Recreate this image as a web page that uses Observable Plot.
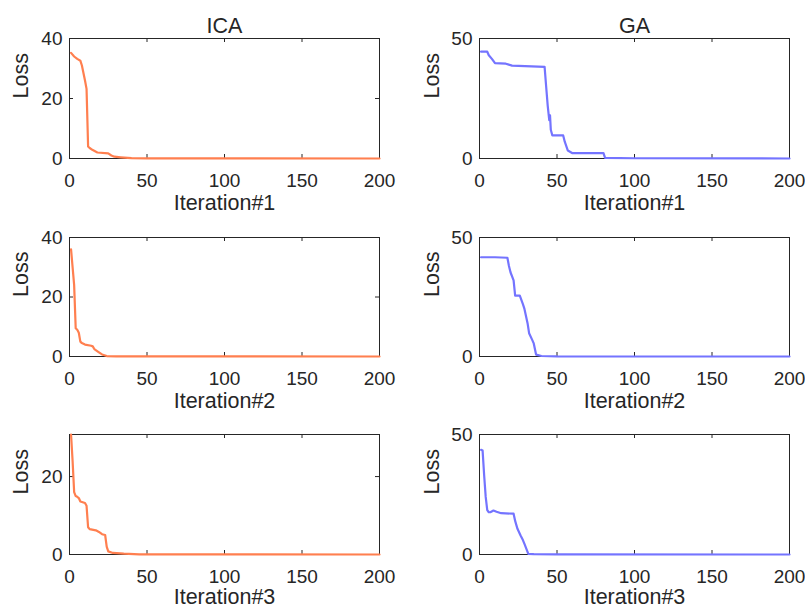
<!DOCTYPE html>
<html>
<head>
<meta charset="utf-8">
<script src="https://cdn.jsdelivr.net/npm/d3@7"></script>
<script src="https://cdn.jsdelivr.net/npm/@observablehq/plot@0.6"></script>
<style>
  html, body { margin: 0; padding: 0; background: #fff; }
  #wrap { position: relative; width: 805px; height: 609px; overflow: hidden; }
  svg { overflow: visible; }
</style>
</head>
<body>
<div id="wrap"></div>
<script>
// ---- data ----
const columnTitles = ["ICA", "GA"];
const xLabels = ["Iteration#1", "Iteration#2", "Iteration#3"];
const yLabel = "Loss";
const xTicks = [0, 50, 100, 150, 200];

const icaTicks = [[0, 20, 40], [0, 20, 40], [0, 20]];
const icaDomains = [[0, 40], [0, 40], [0, 30.8]];
const gaTicks = [[0, 50], [0, 50], [0, 50]];
const gaDomains = [[0, 50], [0, 50], [0, 50]];

const ica1 = [[1,35.2],[3,34],[5,33.2],[7,32.6],[8,31],[10,26],[11,23.2],[12,4],[13,3.5],[15,2.8],[18,2],[25,1.7],[27,1.0],[29,0.6],[33,0.4],[40,0.1],[50,0.02],[200,0]];
const ica2 = [[1,36],[2,30],[3,24],[4,9.5],[5,9],[6,8],[7,5],[8,4.5],[10,4],[14,3.6],[15,3.4],[16,2.5],[19,1.4],[21,0.7],[24,0.15],[30,0.05],[200,0]];
const ica3 = [[1,30.8],[2,24],[3,16],[4,15],[5,14.8],[6,14.5],[7,13.6],[10,13.2],[11,12.5],[12,7],[13,6.5],[17,6.2],[19,5.8],[21,5.2],[23,5],[24,2],[25,0.8],[28,0.4],[35,0.2],[45,0.05],[200,0]];
const ga1 = [[1,44.5],[5,44.5],[6,43],[8,41.5],[10,39.7],[17,39.5],[21,38.7],[42,38.2],[43,30],[44,22],[45,16],[45.5,18],[46,12],[47,9.6],[54,9.6],[55,7],[57,3.3],[60,2.2],[80,2.2],[81,0.3],[100,0.1],[200,0]];
const ga2 = [[1,41.7],[10,41.7],[18,41.5],[19,38],[20,35.4],[22,32],[23,25.6],[26,25.6],[28,22],[29,20],[31,14],[32,9.8],[34,7],[35,5.5],[36.5,0.8],[40,0.2],[50,0.05],[200,0]];
const ga3 = [[1,43.6],[2,43.3],[3,33],[4,24],[5,18.5],[6,17.6],[7,17.6],[9,18.3],[11,17.8],[14,17.2],[22,17],[23,14],[24.5,10.7],[26.5,7.9],[28,6],[29,4.4],[31.5,0.3],[35,0.15],[50,0.05],[200,0]];

const icaSeries = [ica1, ica2, ica3];
const gaSeries = [ga1, ga2, ga3];

// ---- layout ----
const colors = ["#ff7f4f", "#7474ff"];
const axisColor = "#262626";
const cols = [
  {left: 0, width: 400, ml: 69, mr: 21},
  {left: 400, width: 405, ml: 79, mr: 16}
];
const rows = [
  {top: 0, height: 220, mt: 38, mb: 62, ldy: 45},
  {top: 220, height: 195, mt: 17, mb: 59, ldy: 45},
  {top: 415, height: 194, mt: 19, mb: 55, ldy: 43}
];
const font = "'Liberation Sans', Arial, Helvetica, sans-serif";
const wrap = document.getElementById("wrap");

for (let r = 0; r < 3; r++) {
  for (let c = 0; c < 2; c++) {
    const col = cols[c], row = rows[r];
    const fw = col.width - col.ml - col.mr;
    const fh = row.height - row.mt - row.mb;
    const data = c === 0 ? icaSeries[r] : gaSeries[r];
    const yt = c === 0 ? icaTicks[r] : gaTicks[r];
    const yd = c === 0 ? icaDomains[r] : gaDomains[r];
    const marks = [
      Plot.frame({stroke: axisColor, strokeWidth: 1}),
      Plot.tickX(xTicks, {x: d => d, insetTop: fh - 4, stroke: axisColor}),
      Plot.tickX(xTicks, {x: d => d, insetBottom: fh - 4, stroke: axisColor}),
      Plot.tickY(yt, {y: d => d, insetRight: fw - 4, stroke: axisColor}),
      Plot.tickY(yt, {y: d => d, insetLeft: fw - 4, stroke: axisColor}),
      Plot.axisX({ticks: xTicks, tickSize: 0, tickPadding: 15, label: null, fontSize: 19}),
      Plot.axisY({ticks: yt, tickSize: 0, tickPadding: 7, label: null, fontSize: 19}),
      Plot.text([xLabels[r]], {text: d => d, frameAnchor: "bottom", dy: row.ldy, lineAnchor: "middle", fontSize: 21.5, fill: axisColor}),
      Plot.text([yLabel], {text: d => d, frameAnchor: "left", dx: c === 0 ? -48 : -47, rotate: -90, lineAnchor: "middle", fontSize: 21.5, fill: axisColor}),
      Plot.line(data, {x: d => d[0], y: d => d[1], stroke: colors[c], strokeWidth: 2.2})
    ];
    if (r === 0) {
      marks.push(Plot.text([columnTitles[c]], {text: d => d, frameAnchor: "top", dy: -12, lineAnchor: "middle", fontSize: 21.5, fill: axisColor}));
    }
    const chart = Plot.plot({
      width: col.width,
      height: row.height,
      marginLeft: col.ml,
      marginRight: col.mr,
      marginTop: row.mt,
      marginBottom: row.mb,
      x: {domain: [0, 200]},
      y: {domain: yd},
      style: {fontFamily: font, fontSize: "19px", color: axisColor, background: "transparent", overflow: "visible"},
      marks
    });
    chart.style.position = "absolute";
    chart.style.left = col.left + "px";
    chart.style.top = row.top + "px";
    wrap.appendChild(chart);
  }
}
</script>
</body>
</html>
